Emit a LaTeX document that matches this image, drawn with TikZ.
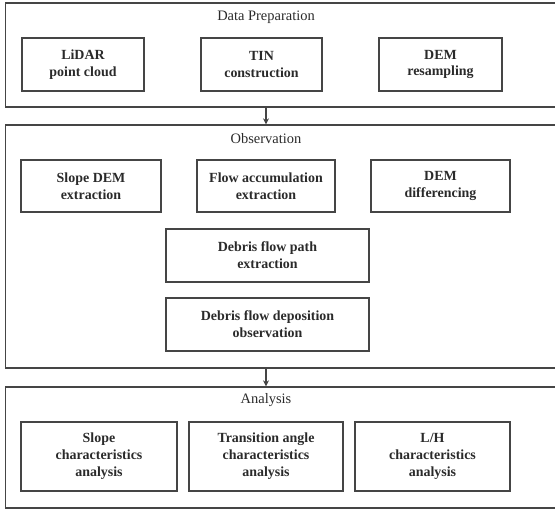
\documentclass[tikz,border=0pt]{standalone}
\usepackage{fontspec}
\setmainfont{Liberation Serif}
\usetikzlibrary{arrows.meta}
\definecolor{ln}{HTML}{454545}
\definecolor{tx}{HTML}{2A2A2A}
\tikzset{
  outer/.style={draw=ln, line width=1.3bp, rectangle, inner sep=0pt},
  inner/.style={draw=ln, line width=1.2bp, rectangle, inner sep=0pt, align=center,
    text=tx, font=\fontsize{14}{17}\selectfont\bfseries},
  title/.style={text=tx, inner sep=0pt, font=\fontsize{14.5}{16}\selectfont},
  flow/.style={draw=ln, line width=1.1bp, -{Stealth[length=6bp,width=6bp]}}
}
\begin{document}
\begin{tikzpicture}[x=1bp,y=-1bp]
\useasboundingbox (0,0) rectangle (555,509);
% outer boxes
\node[outer, minimum width=555bp, minimum height=104bp] (prep) at (283,55) {};
\node[outer, minimum width=555bp, minimum height=243bp] (obs) at (283,246.5) {};
\node[outer, minimum width=555bp, minimum height=121bp] (ana) at (283,447.5) {};
% titles
\node[title] (t1) at (266,17) {Data Preparation};
\node[title] (t2) at (266,139) {Observation};
\node[title] (t3) at (266,400) {Analysis};
% data preparation
\node[inner, minimum width=122bp, minimum height=53bp] (lidar) at (83,64.5) {LiDAR\\point cloud};
\node[inner, minimum width=121bp, minimum height=53bp] (tin) at (261.5,64.5) {TIN\\construction};
\node[inner, minimum width=123bp, minimum height=53bp] (dem) at (440.5,64.5) {DEM\\resampling};
% observation
\node[inner, minimum width=140bp, minimum height=52bp] (slope) at (91,186) {Slope DEM\\extraction};
\node[inner, minimum width=138bp, minimum height=52bp] (facc) at (266,186) {Flow accumulation\\extraction};
\node[inner, minimum width=139bp, minimum height=52bp] (diff) at (440.5,186) {DEM\\differencing};
\node[inner, minimum width=203bp, minimum height=53bp] (path) at (267.5,255.5) {Debris flow path\\extraction};
\node[inner, minimum width=203bp, minimum height=53bp] (depo) at (267.5,324.5) {Debris flow deposition\\observation};
% analysis
\node[inner, minimum width=156bp, minimum height=69bp] (sca) at (99,456.5) {Slope\\characteristics\\analysis};
\node[inner, minimum width=154bp, minimum height=69bp] (tca) at (266,456.5) {Transition angle\\characteristics\\analysis};
\node[inner, minimum width=155bp, minimum height=69bp] (lh) at (432.5,456.5) {L/H\\characteristics\\analysis};
% connectors
\draw[flow] (prep.south -| t1) -- (obs.north -| t1);
\draw[flow] (obs.south -| t1) -- (ana.north -| t1);
\end{tikzpicture}
\end{document}
